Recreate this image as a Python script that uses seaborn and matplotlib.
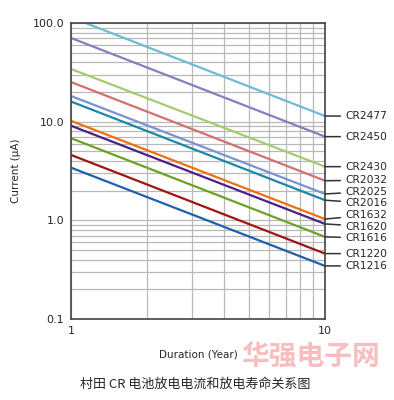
import pandas as pd
import seaborn as sns
from matplotlib import pyplot as plt
from matplotlib.ticker import FixedLocator, FixedFormatter, NullFormatter

# battery models, current (uA) read at 1 year and 10 years
models = ["CR2477", "CR2450", "CR2430", "CR2032", "CR2025", "CR2016",
          "CR1632", "CR1620", "CR1616", "CR1220", "CR1216"]
years = [1, 10]
current_1y = [114, 70.5, 34.2, 25.2, 18.2, 16.0, 10.2, 9.1, 6.8, 4.6, 3.42]
current_10y = [11.4, 7.05, 3.5, 2.52, 1.85, 1.6, 1.03, 0.92, 0.68, 0.46, 0.345]
colors = ["#6cbdd3", "#8c7bbd", "#a6cb6c", "#d46f6d", "#7893d3", "#1c88a8",
          "#f07010", "#4a2188", "#6aa324", "#a01414", "#1f5fb0"]

yticks = [0.1, 1, 10, 100]
ytick_labels = ["0.1", "1.0", "10.0", "100.0"]

rows = []
for m, a, b in zip(models, current_1y, current_10y):
    rows.append({"model": m, "year": years[0], "current": a})
    rows.append({"model": m, "year": years[1], "current": b})
df = pd.DataFrame(rows)

sns.set_style("white")
plt.rcParams["font.family"] = ["DejaVu Sans", "Noto Sans CJK SC"]

fig = plt.figure(figsize=(3.94, 4.0), dpi=100)
ax = fig.add_axes([71 / 394, 81 / 400, 254 / 394, 296 / 400])

sns.lineplot(df, x="year", y="current", hue="model", palette=dict(zip(models, colors)),
             linewidth=1.6, legend=False, ax=ax)
ax.set_xscale("log")
ax.set_yscale("log")
ax.set_xlim(1, 10)
ax.set_ylim(0.1, 100)

ax.yaxis.set_major_locator(FixedLocator(yticks))
ax.yaxis.set_major_formatter(FixedFormatter(ytick_labels))
ax.yaxis.set_minor_formatter(NullFormatter())
ax.xaxis.set_major_locator(FixedLocator([1, 10]))
ax.xaxis.set_major_formatter(FixedFormatter(["1", "10"]))
ax.xaxis.set_minor_formatter(NullFormatter())
ax.grid(which="both", color="#b8b8b8", linewidth=0.9)
ax.set_axisbelow(True)
ax.tick_params(which="major", length=3, width=1, color="#333333", labelsize=8, pad=2)
ax.tick_params(which="minor", length=0)
for s in ax.spines.values():
    s.set_color("#444444")
    s.set_linewidth(1.2)
    s.set_visible(True)

ax.set_xlabel("Duration (Year)", fontsize=7.5, labelpad=10)
ax.set_ylabel("Current (μA)", fontsize=7.5, labelpad=8)

# spread end labels so they don't overlap
ends = [ax.transData.transform((years[1], v))[1] for v in current_10y]
order = sorted(range(len(models)), key=lambda i: ends[i])
ys = [ends[i] for i in order]
gap = 11.4
for _ in range(200):
    for k in range(1, len(ys)):
        d = ys[k] - ys[k - 1]
        if d < gap:
            sh = (gap - d) / 2
            ys[k - 1] -= sh
            ys[k] += sh
for k, i in enumerate(order):
    ax.annotate(models[i], xy=(years[1], current_10y[i]), xycoords="data",
                xytext=(345, ys[k]), textcoords="figure pixels",
                fontsize=7.7, va="center", ha="left", annotation_clip=False,
                arrowprops=dict(arrowstyle="-", color="#333333", lw=1.1,
                                shrinkA=1, shrinkB=0))

# site watermark
fig.text(311 / 394, 1 - 358 / 400, "华强电子网", fontsize=20, color="#f4a9a9", alpha=0.75,
         ha="center", va="center", family=["Noto Sans CJK SC"], weight="bold")
fig.text(0.495, 0.04, "村田 CR 电池放电电流和放电寿命关系图", fontsize=9.4,
         ha="center", va="center", family=["Noto Sans CJK SC", "DejaVu Sans"])

fig.savefig("out.png", dpi=100)
